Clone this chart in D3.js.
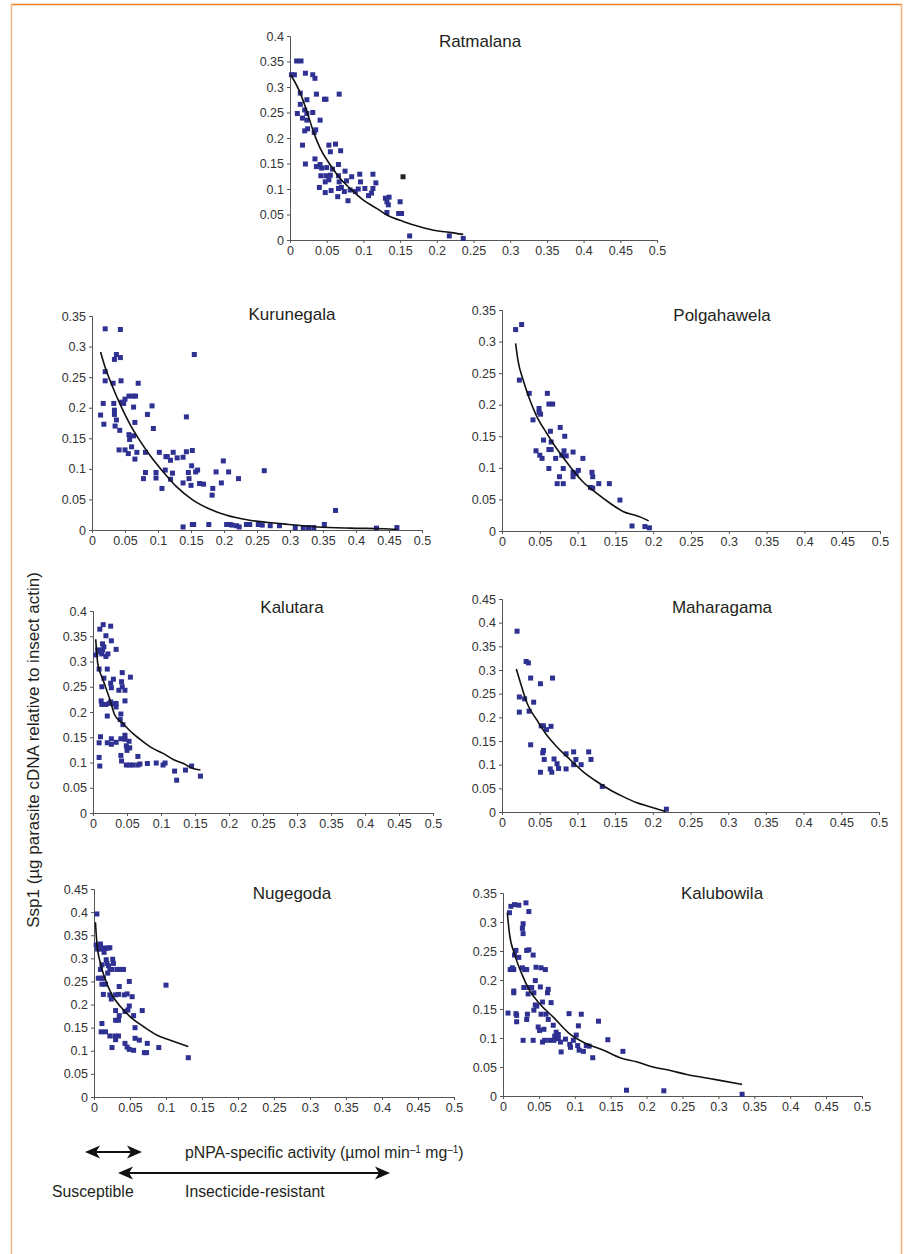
<!DOCTYPE html>
<html>
<head>
<meta charset="utf-8">
<script src="https://cdn.jsdelivr.net/npm/d3@7"></script>
<style>
  body { margin: 0; background: #fff; }
  svg { display: block; font-family: "Liberation Sans", Arial, sans-serif; }
  .tick text { fill: #333; }
</style>
</head>
<body>
<div id="svg-area"></div>
<script>
// ---- data: [pNPA activity, Ssp1] ----
var ratmalanaPts = [[0.002,0.324],[0.006,0.324],[0.009,0.351],[0.015,0.351],[0.021,0.327],[0.031,0.324],[0.034,0.317],
  [0.014,0.288],[0.036,0.286],[0.049,0.276],[0.047,0.276],[0.067,0.286],[0.023,0.275],[0.014,0.266],[0.010,0.248],
  [0.020,0.255],[0.023,0.248],[0.031,0.250],[0.017,0.239],[0.023,0.235],[0.041,0.235],[0.020,0.214],[0.024,0.218],
  [0.035,0.216],[0.033,0.211],[0.017,0.186],[0.053,0.186],[0.062,0.188],[0.055,0.173],[0.069,0.175],[0.021,0.149],
  [0.034,0.159],[0.041,0.148],[0.036,0.144],[0.043,0.141],[0.050,0.142],[0.058,0.139],[0.066,0.148],[0.042,0.126],
  [0.049,0.126],[0.055,0.127],[0.075,0.135],[0.066,0.126],[0.084,0.124],[0.095,0.129],[0.113,0.129],[0.053,0.118],
  [0.048,0.114],[0.067,0.114],[0.077,0.116],[0.096,0.114],[0.117,0.112],[0.040,0.103],[0.056,0.097],[0.048,0.093],
  [0.066,0.101],[0.070,0.103],[0.074,0.095],[0.082,0.098],[0.089,0.095],[0.093,0.100],[0.102,0.101],[0.113,0.101],
  [0.065,0.085],[0.079,0.077],[0.107,0.087],[0.111,0.092],[0.130,0.082],[0.135,0.084],[0.134,0.069],[0.132,0.075],
  [0.150,0.075],[0.132,0.054],[0.148,0.052],[0.152,0.052],[0.163,0.008],[0.217,0.008],[0.236,0.003]];
var ratmalanaOdd = [[0.154,0.124]];
var ratmalanaFit = [[0.001,0.324],[0.014,0.288],[0.023,0.252],[0.032,0.212],[0.041,0.180],[0.055,0.147],[0.068,0.121],
  [0.082,0.101],[0.100,0.078],[0.118,0.062],[0.132,0.049],[0.155,0.036],[0.177,0.026],[0.200,0.018],[0.217,0.015],[0.236,0.011]];

var kurunegalaPts = [[0.020,0.329],[0.043,0.328],[0.013,0.188],[0.017,0.207],[0.018,0.173],[0.020,0.259],[0.020,0.244],
  [0.034,0.279],[0.037,0.287],[0.043,0.282],[0.032,0.240],[0.044,0.244],[0.033,0.207],[0.034,0.196],[0.034,0.189],
  [0.037,0.180],[0.035,0.170],[0.042,0.163],[0.045,0.209],[0.048,0.207],[0.050,0.214],[0.056,0.219],[0.062,0.219],
  [0.066,0.219],[0.063,0.201],[0.070,0.240],[0.065,0.176],[0.056,0.156],[0.057,0.148],[0.063,0.154],[0.041,0.131],
  [0.050,0.131],[0.055,0.125],[0.060,0.136],[0.065,0.116],[0.068,0.127],[0.081,0.127],[0.091,0.203],[0.084,0.189],
  [0.093,0.166],[0.081,0.094],[0.078,0.084],[0.097,0.094],[0.097,0.085],[0.102,0.127],[0.111,0.098],[0.112,0.120],
  [0.114,0.120],[0.119,0.114],[0.123,0.127],[0.129,0.118],[0.122,0.093],[0.119,0.083],[0.106,0.068],[0.143,0.185],
  [0.138,0.119],[0.143,0.128],[0.152,0.130],[0.151,0.105],[0.146,0.094],[0.147,0.084],[0.150,0.073],[0.138,0.077],
  [0.155,0.287],[0.157,0.095],[0.160,0.098],[0.163,0.076],[0.169,0.075],[0.183,0.068],[0.182,0.057],[0.188,0.095],
  [0.196,0.077],[0.199,0.113],[0.207,0.095],[0.222,0.084],[0.261,0.097],[0.369,0.032],
  [0.138,0.005],[0.152,0.009],[0.154,0.009],[0.177,0.009],[0.204,0.009],[0.209,0.009],[0.212,0.008],[0.219,0.007],
  [0.223,0.005],[0.234,0.009],[0.239,0.009],[0.252,0.009],[0.258,0.008],[0.270,0.007],[0.284,0.007],[0.308,0.004],
  [0.320,0.004],[0.328,0.004],[0.336,0.004],[0.352,0.009],[0.431,0.003],[0.462,0.004]];
var kurunegalaFit = [[0.013,0.291],[0.019,0.269],[0.029,0.240],[0.042,0.207],[0.057,0.174],[0.072,0.147],[0.088,0.122],
  [0.108,0.095],[0.128,0.071],[0.153,0.049],[0.179,0.034],[0.204,0.024],[0.239,0.016],[0.290,0.010],[0.341,0.005],
  [0.391,0.003],[0.442,0.002],[0.462,0.001]];

var polgahawelaPts = [[0.018,0.319],[0.026,0.327],[0.023,0.239],[0.036,0.218],[0.041,0.176],[0.049,0.194],[0.049,0.188],
  [0.051,0.185],[0.045,0.127],[0.050,0.120],[0.053,0.115],[0.055,0.144],[0.060,0.218],[0.062,0.201],[0.067,0.201],
  [0.064,0.158],[0.065,0.141],[0.062,0.129],[0.065,0.129],[0.062,0.099],[0.071,0.115],[0.077,0.164],[0.083,0.150],
  [0.079,0.120],[0.085,0.119],[0.082,0.127],[0.081,0.099],[0.076,0.086],[0.073,0.075],[0.081,0.075],[0.094,0.125],
  [0.094,0.093],[0.094,0.086],[0.098,0.091],[0.101,0.096],[0.107,0.115],[0.119,0.093],[0.120,0.086],[0.117,0.069],
  [0.120,0.068],[0.128,0.075],[0.142,0.075],[0.156,0.049],[0.172,0.008],[0.189,0.007],[0.195,0.005]];
var polgahawelaFit = [[0.018,0.297],[0.021,0.271],[0.028,0.239],[0.037,0.207],[0.045,0.184],[0.059,0.155],[0.072,0.131],
  [0.090,0.102],[0.107,0.078],[0.125,0.060],[0.143,0.044],[0.160,0.031],[0.178,0.024],[0.187,0.020],[0.194,0.016]];

var kalutaraPts = [[0.004,0.313],[0.007,0.323],[0.010,0.364],[0.015,0.373],[0.026,0.370],[0.019,0.351],[0.027,0.341],
  [0.014,0.335],[0.016,0.329],[0.014,0.323],[0.010,0.319],[0.013,0.315],[0.019,0.310],[0.022,0.315],[0.034,0.324],
  [0.009,0.285],[0.021,0.285],[0.016,0.267],[0.030,0.265],[0.043,0.278],[0.055,0.269],[0.013,0.250],[0.027,0.248],
  [0.026,0.257],[0.042,0.260],[0.043,0.250],[0.038,0.243],[0.047,0.243],[0.012,0.222],[0.013,0.215],[0.019,0.215],
  [0.024,0.217],[0.034,0.217],[0.034,0.210],[0.026,0.220],[0.031,0.216],[0.047,0.222],[0.021,0.192],[0.041,0.196],
  [0.040,0.185],[0.044,0.175],[0.011,0.151],[0.009,0.139],[0.009,0.110],[0.010,0.093],[0.027,0.147],[0.021,0.139],
  [0.027,0.136],[0.034,0.140],[0.041,0.147],[0.047,0.154],[0.047,0.146],[0.053,0.142],[0.049,0.133],[0.054,0.129],
  [0.050,0.124],[0.041,0.114],[0.042,0.103],[0.049,0.095],[0.054,0.095],[0.059,0.095],[0.066,0.095],[0.069,0.097],
  [0.066,0.112],[0.080,0.098],[0.093,0.099],[0.103,0.095],[0.106,0.099],[0.120,0.083],[0.123,0.065],[0.136,0.085],
  [0.145,0.093],[0.158,0.073]];
var kalutaraFit = [[0.004,0.344],[0.007,0.296],[0.015,0.263],[0.025,0.224],[0.032,0.194],[0.044,0.177],[0.059,0.157],
  [0.074,0.141],[0.088,0.128],[0.103,0.118],[0.118,0.106],[0.133,0.098],[0.147,0.088],[0.158,0.085]];

var maharagamaPts = [[0.020,0.382],[0.032,0.318],[0.035,0.315],[0.038,0.283],[0.051,0.271],[0.067,0.283],[0.023,0.243],
  [0.030,0.239],[0.042,0.232],[0.023,0.211],[0.036,0.213],[0.052,0.182],[0.055,0.182],[0.065,0.181],[0.059,0.174],
  [0.038,0.142],[0.055,0.130],[0.054,0.125],[0.056,0.111],[0.069,0.112],[0.051,0.084],[0.064,0.091],[0.066,0.084],
  [0.073,0.102],[0.075,0.092],[0.085,0.123],[0.085,0.091],[0.095,0.127],[0.098,0.111],[0.095,0.100],[0.105,0.100],
  [0.115,0.127],[0.118,0.111],[0.133,0.054],[0.218,0.006]];
var maharagamaFit = [[0.019,0.302],[0.026,0.265],[0.034,0.227],[0.046,0.195],[0.059,0.163],[0.072,0.139],[0.090,0.111],
  [0.107,0.086],[0.125,0.065],[0.143,0.047],[0.160,0.033],[0.178,0.020],[0.196,0.011],[0.217,0.001]];

var nugegodaPts = [[0.004,0.396],[0.003,0.329],[0.006,0.326],[0.009,0.331],[0.005,0.320],[0.008,0.320],[0.012,0.322],
  [0.016,0.322],[0.019,0.322],[0.022,0.323],[0.014,0.313],[0.017,0.297],[0.018,0.289],[0.026,0.298],[0.027,0.289],
  [0.009,0.276],[0.011,0.286],[0.020,0.284],[0.022,0.276],[0.025,0.276],[0.032,0.276],[0.036,0.276],[0.041,0.276],
  [0.019,0.268],[0.006,0.257],[0.010,0.257],[0.013,0.257],[0.049,0.250],[0.011,0.244],[0.016,0.244],[0.013,0.222],
  [0.022,0.221],[0.024,0.212],[0.030,0.221],[0.034,0.222],[0.042,0.221],[0.046,0.223],[0.053,0.217],[0.035,0.239],
  [0.100,0.242],[0.030,0.187],[0.035,0.176],[0.043,0.185],[0.047,0.188],[0.049,0.197],[0.055,0.176],[0.067,0.187],
  [0.030,0.166],[0.034,0.166],[0.057,0.150],[0.011,0.159],[0.010,0.141],[0.016,0.141],[0.022,0.132],[0.029,0.132],
  [0.034,0.132],[0.030,0.124],[0.043,0.116],[0.046,0.108],[0.049,0.103],[0.055,0.101],[0.057,0.127],[0.063,0.123],
  [0.070,0.096],[0.073,0.096],[0.074,0.116],[0.090,0.107],[0.025,0.107],[0.131,0.085]];
var nugegodaFit = [[0.002,0.378],[0.004,0.333],[0.009,0.289],[0.016,0.253],[0.025,0.221],[0.037,0.195],[0.050,0.174],
  [0.069,0.152],[0.087,0.134],[0.106,0.123],[0.131,0.109]];

var kalubowilaPts = [[0.009,0.316],[0.011,0.327],[0.016,0.330],[0.022,0.329],[0.032,0.333],[0.036,0.318],[0.028,0.297],
  [0.027,0.289],[0.028,0.280],[0.018,0.251],[0.022,0.239],[0.016,0.243],[0.033,0.251],[0.036,0.252],[0.042,0.243],
  [0.010,0.218],[0.013,0.221],[0.015,0.218],[0.027,0.221],[0.030,0.218],[0.033,0.218],[0.046,0.222],[0.053,0.221],
  [0.059,0.218],[0.045,0.199],[0.015,0.181],[0.015,0.178],[0.029,0.187],[0.036,0.187],[0.040,0.187],[0.052,0.188],
  [0.063,0.184],[0.062,0.178],[0.043,0.178],[0.035,0.176],[0.045,0.157],[0.047,0.155],[0.055,0.162],[0.067,0.161],
  [0.007,0.143],[0.018,0.142],[0.019,0.139],[0.034,0.141],[0.043,0.148],[0.053,0.141],[0.060,0.141],[0.063,0.132],
  [0.033,0.132],[0.019,0.128],[0.092,0.142],[0.109,0.141],[0.133,0.129],[0.070,0.122],[0.105,0.121],[0.049,0.119],
  [0.051,0.113],[0.057,0.115],[0.074,0.110],[0.077,0.106],[0.072,0.103],[0.102,0.105],[0.028,0.096],[0.042,0.096],
  [0.055,0.093],[0.058,0.096],[0.065,0.096],[0.071,0.096],[0.077,0.099],[0.080,0.093],[0.087,0.098],[0.093,0.089],
  [0.094,0.084],[0.098,0.096],[0.104,0.087],[0.106,0.079],[0.112,0.077],[0.116,0.087],[0.120,0.086],[0.125,0.066],
  [0.081,0.076],[0.146,0.097],[0.167,0.077],[0.172,0.010],[0.224,0.009],[0.333,0.003]];
var kalubowilaFit = [[0.006,0.316],[0.009,0.280],[0.016,0.245],[0.026,0.211],[0.037,0.182],[0.051,0.159],[0.070,0.136],
  [0.093,0.107],[0.116,0.090],[0.140,0.079],[0.163,0.066],[0.186,0.059],[0.209,0.050],[0.233,0.044],[0.256,0.037],
  [0.279,0.032],[0.302,0.027],[0.333,0.020]];

// tick values
var xTicks = [0, 0.05, 0.1, 0.15, 0.2, 0.25, 0.3, 0.35, 0.4, 0.45, 0.5];
var yTicks35 = [0, 0.05, 0.1, 0.15, 0.2, 0.25, 0.3, 0.35];
var yTicks40 = [0, 0.05, 0.1, 0.15, 0.2, 0.25, 0.3, 0.35, 0.4];
var yTicks45 = [0, 0.05, 0.1, 0.15, 0.2, 0.25, 0.3, 0.35, 0.4, 0.45];

// panel layout (pixels)
var panels = [
  { name: "Ratmalana",   pts: ratmalanaPts,   fit: ratmalanaFit,   yTicks: yTicks40, left: 290, right: 657, top: 36,  bottom: 240,  tx: 480, ty: 47 },
  { name: "Kurunegala",  pts: kurunegalaPts,  fit: kurunegalaFit,  yTicks: yTicks35, left: 92,  right: 422, top: 316, bottom: 530,  tx: 292, ty: 320 },
  { name: "Polgahawela", pts: polgahawelaPts, fit: polgahawelaFit, yTicks: yTicks35, left: 502, right: 880, top: 310, bottom: 531,  tx: 722, ty: 321 },
  { name: "Kalutara",    pts: kalutaraPts,    fit: kalutaraFit,    yTicks: yTicks40, left: 93,  right: 433, top: 611, bottom: 813,  tx: 292, ty: 613 },
  { name: "Maharagama",  pts: maharagamaPts,  fit: maharagamaFit,  yTicks: yTicks45, left: 502, right: 879, top: 599, bottom: 812,  tx: 722, ty: 613 },
  { name: "Nugegoda",    pts: nugegodaPts,    fit: nugegodaFit,    yTicks: yTicks45, left: 94,  right: 454, top: 889, bottom: 1097, tx: 292, ty: 899 },
  { name: "Kalubowila",  pts: kalubowilaPts,  fit: kalubowilaFit,  yTicks: yTicks35, left: 503, right: 862, top: 893, bottom: 1096, tx: 722, ty: 899 }
];

var svgWidth = 906, svgHeight = 1254;
var markColor = "#2e3192";
var textColor = "#231f20";

var svg = d3.select("#svg-area").append("svg")
    .attr("width", svgWidth)
    .attr("height", svgHeight);

// orange frame
svg.append("line").attr("x1", 11).attr("x2", 902).attr("y1", 4.5).attr("y2", 4.5)
    .attr("stroke", "#ef7d22").attr("stroke-width", 1.6);
svg.append("line").attr("x1", 11.5).attr("x2", 11.5).attr("y1", 4).attr("y2", svgHeight)
    .attr("stroke", "#f5b27c").attr("stroke-width", 1.4);
svg.append("line").attr("x1", 901.5).attr("x2", 901.5).attr("y1", 4).attr("y2", svgHeight)
    .attr("stroke", "#f5b27c").attr("stroke-width", 1.6);

panels.forEach(function (p) {
    var yMax = p.yTicks[p.yTicks.length - 1];
    var x = d3.scaleLinear().domain([0, 0.5]).range([p.left, p.right]);
    var y = d3.scaleLinear().domain([0, yMax]).range([p.bottom, p.top]);

    var g = svg.append("g");

    var xAxis = g.append("g")
        .attr("transform", `translate(0, ${p.bottom})`)
        .call(d3.axisBottom(x).tickValues(xTicks).tickFormat(d => String(d)).tickSize(3).tickPadding(3));
    var yAxis = g.append("g")
        .attr("transform", `translate(${p.left}, 0)`)
        .call(d3.axisLeft(y).tickValues(p.yTicks).tickFormat(d => String(d)).tickSize(3).tickPadding(3));

    [xAxis, yAxis].forEach(function (a) {
        a.select(".domain").attr("stroke", "#555").attr("stroke-width", 1);
        a.selectAll(".tick line").attr("stroke", "#555");
        a.selectAll(".tick text").attr("font-size", "12.5px").attr("font-family", "Liberation Sans, Arial, sans-serif");
    });

    // points
    g.selectAll("rect.pt")
        .data(p.pts)
        .enter()
        .append("rect")
        .attr("class", "pt")
        .attr("x", d => x(d[0]) - 2.5)
        .attr("y", d => y(d[1]) - 2.5)
        .attr("width", 5)
        .attr("height", 5)
        .attr("fill", markColor);

    // fitted curve
    var line = d3.line()
        .x(d => x(d[0]))
        .y(d => y(d[1]))
        .curve(d3.curveMonotoneX);
    g.append("path")
        .datum(p.fit)
        .attr("d", line)
        .attr("fill", "none")
        .attr("stroke", "#111")
        .attr("stroke-width", 1.6);

    if (p.name === "Ratmalana") {
        g.selectAll("rect.odd")
            .data(ratmalanaOdd)
            .enter()
            .append("rect")
            .attr("class", "odd")
            .attr("x", d => x(d[0]) - 2.5)
            .attr("y", d => y(d[1]) - 2.5)
            .attr("width", 5)
            .attr("height", 5)
            .attr("fill", "#222");
    }

    g.append("text")
        .attr("x", p.tx)
        .attr("y", p.ty)
        .attr("text-anchor", "middle")
        .attr("font-size", "17px")
        .attr("fill", textColor)
        .text(p.name);
});

// y axis label
svg.append("text")
    .attr("transform", "translate(39, 750) rotate(-90)")
    .attr("text-anchor", "middle")
    .attr("font-size", "17px")
    .attr("fill", textColor)
    .text("Ssp1 (µg parasite cDNA relative to insect actin)");

// x axis label with superscripts
var xl = svg.append("text")
    .attr("x", 185)
    .attr("y", 1158)
    .attr("font-size", "15.8px")
    .attr("fill", textColor);
xl.append("tspan").text("pNPA-specific activity (µmol min");
xl.append("tspan").attr("dy", -5).attr("font-size", "10px").text("–1");
xl.append("tspan").attr("dy", 5).text(" mg");
xl.append("tspan").attr("dy", -5).attr("font-size", "10px").text("–1");
xl.append("tspan").attr("dy", 5).text(")");

// double arrows
function doubleArrow(x1, x2, yy) {
    svg.append("line").attr("x1", x1 + 6).attr("x2", x2 - 6).attr("y1", yy).attr("y2", yy)
        .attr("stroke", "#111").attr("stroke-width", 2.2);
    var head = "M0,0 L15,-6.5 L11,0 L15,6.5 Z";
    svg.append("path").attr("d", head).attr("transform", `translate(${x1}, ${yy})`).attr("fill", "#111");
    svg.append("path").attr("d", head).attr("transform", `translate(${x2}, ${yy}) scale(-1,1)`).attr("fill", "#111");
}
doubleArrow(85, 142, 1152);
doubleArrow(118, 390, 1173);

svg.append("text").attr("x", 52).attr("y", 1197).attr("font-size", "15.8px").attr("fill", textColor).text("Susceptible");
svg.append("text").attr("x", 185).attr("y", 1197).attr("font-size", "15.8px").attr("fill", textColor).text("Insecticide-resistant");
</script>
</body>
</html>
